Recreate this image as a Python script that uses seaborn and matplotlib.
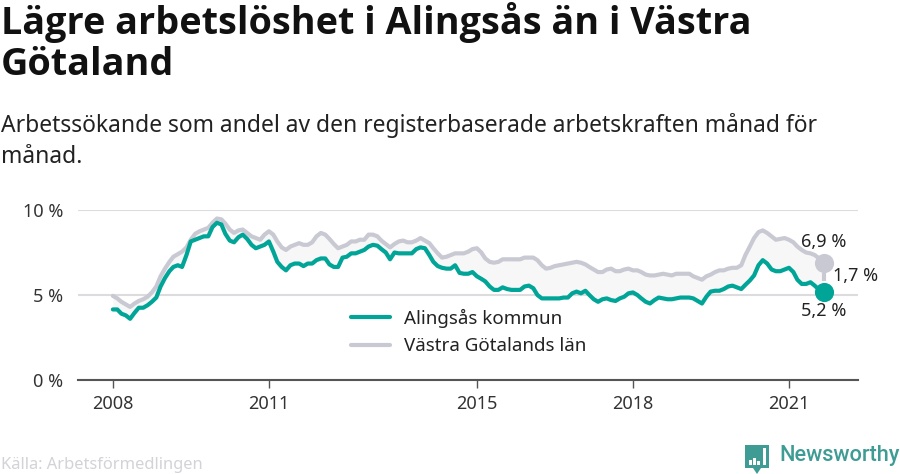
import pandas as pd
import matplotlib
matplotlib.use("Agg")
import matplotlib.pyplot as plt
import matplotlib.patches as mpatches
import seaborn as sns

# ------------------------------
# DATA (monthly, percent)
# ------------------------------
alingsas = [
    4.15, 4.15, 3.9, 3.8, 3.6, 3.95, 4.25, 4.25, 4.4, 4.6, 4.85, 5.5,
    6.0, 6.4, 6.65, 6.75, 6.65, 7.35, 8.15, 8.25, 8.35, 8.45, 8.45, 9.0,
    9.25, 9.15, 8.6, 8.2, 8.1, 8.4, 8.55, 8.3, 7.95, 7.75, 7.85, 7.95,
    8.15, 7.55, 6.95, 6.65, 6.45, 6.75, 6.85, 6.85, 6.7, 6.85, 6.85, 7.05,
    7.15, 7.15, 6.8, 6.65, 6.65, 7.2, 7.25, 7.45, 7.45, 7.55, 7.65, 7.85,
    7.95, 7.9, 7.7, 7.5, 7.1, 7.5, 7.45, 7.45, 7.45, 7.45, 7.7, 7.8,
    7.75, 7.35, 6.95, 6.7, 6.6, 6.55, 6.55, 6.75, 6.3, 6.25, 6.25, 6.35,
    6.1, 5.95, 5.8, 5.5, 5.3, 5.3, 5.45, 5.35, 5.3, 5.3, 5.3, 5.5,
    5.55, 5.4, 5.0, 4.8, 4.8, 4.8, 4.8, 4.8, 4.85, 4.85, 5.1, 5.2,
    5.1, 5.25, 5.0, 4.75, 4.6, 4.75, 4.8, 4.7, 4.65, 4.8, 4.9, 5.1,
    5.15, 5.0, 4.8, 4.6, 4.5, 4.7, 4.85, 4.8, 4.75, 4.75, 4.8, 4.85,
    4.85, 4.85, 4.8, 4.65, 4.5, 4.9, 5.2, 5.25, 5.25, 5.35, 5.5, 5.55,
    5.45, 5.35, 5.6, 5.85, 6.15, 6.75, 7.05, 6.85, 6.5, 6.4, 6.4, 6.5,
    6.6, 6.35, 5.9, 5.65, 5.65, 5.75, 5.55, 5.3, 5.2,
]
vastra_gotaland = [
    4.95, 4.8, 4.6, 4.45, 4.3, 4.5, 4.65, 4.75, 4.9, 5.15, 5.5, 6.1,
    6.55, 6.95, 7.25, 7.4, 7.55, 7.8, 8.25, 8.6, 8.75, 8.85, 8.95, 9.25,
    9.5, 9.45, 9.2, 8.85, 8.65, 8.8, 8.85, 8.65, 8.45, 8.35, 8.25, 8.55,
    8.75, 8.55, 8.15, 7.8, 7.65, 7.85, 7.95, 8.05, 7.95, 7.95, 8.1, 8.45,
    8.65, 8.55, 8.3, 8.0, 7.75, 7.85, 7.95, 8.15, 8.15, 8.25, 8.25, 8.55,
    8.55, 8.45, 8.2, 8.0, 7.8, 8.0, 8.15, 8.2, 8.1, 8.1, 8.2, 8.35,
    8.2, 8.05, 7.75, 7.45, 7.2, 7.25, 7.35, 7.45, 7.45, 7.45, 7.55, 7.7,
    7.75, 7.5, 7.15, 6.95, 6.9, 6.95, 7.1, 7.1, 7.1, 7.1, 7.1, 7.2,
    7.2, 7.2, 7.05, 6.75, 6.55, 6.6, 6.7, 6.75, 6.8, 6.85, 6.9, 6.95,
    6.9, 6.8, 6.65, 6.5, 6.35, 6.35, 6.5, 6.55, 6.4, 6.4, 6.5, 6.55,
    6.45, 6.45, 6.35, 6.2, 6.15, 6.15, 6.2, 6.25, 6.2, 6.15, 6.25, 6.25,
    6.25, 6.25, 6.1, 6.0, 5.9, 6.1, 6.2, 6.35, 6.45, 6.45, 6.55, 6.6,
    6.6, 6.75, 7.35, 7.85, 8.35, 8.7, 8.8, 8.65, 8.45, 8.25, 8.3, 8.35,
    8.25, 8.1, 7.85, 7.65, 7.5, 7.45, 7.35, 7.15, 6.9,
]
year_ticks = [2008, 2011, 2015, 2018, 2021]
y_ticks = [0, 5, 10]
y_labels = ["0 %", "5 %", "10 %"]

GREEN = "#00a597"
GREY = "#c9c9d3"
W, H = 900, 474

months = pd.date_range("2008-01-01", periods=len(alingsas), freq="MS")
df = pd.DataFrame({
    "month": months,
    "Alingsås kommun": alingsas,
    "Västra Götalands län": vastra_gotaland,
})
long_df = df.melt("month", var_name="region", value_name="share")

# ------------------------------
# PLOT
# ------------------------------
sns.set_theme(style="white")
plt.rcParams["font.family"] = ["Noto Sans", "DejaVu Sans"]

fig = plt.figure(figsize=(W / 100, H / 100), dpi=100)
ax = fig.add_axes([78 / W, 1 - 380 / H, 780 / W, 170 / H])

ax.fill_between(df["month"], df["Alingsås kommun"], df["Västra Götalands län"],
                color="#f7f7f8", lw=0, zorder=1)
sns.lineplot(data=long_df, x="month", y="share", hue="region",
             hue_order=["Västra Götalands län", "Alingsås kommun"],
             palette={"Alingsås kommun": GREEN, "Västra Götalands län": GREY},
             lw=3, ax=ax, zorder=3, legend=False)

# end markers and the gap between them
last = df.iloc[-1]
ax.plot([last["month"]] * 2, [last["Alingsås kommun"] + 0.6, last["Västra Götalands län"] - 0.6],
        color=GREY, lw=3, zorder=2, solid_capstyle="butt")
ax.scatter(last["month"], last["Västra Götalands län"], s=190, color=GREY, lw=0, zorder=4)
ax.scatter(last["month"], last["Alingsås kommun"], s=190, color=GREEN, lw=0, zorder=5)

ax.set_xlim(pd.Timestamp("2007-05-01"), pd.Timestamp("2022-05-01"))
ax.set_ylim(0, 10)
ax.set_xticks([pd.Timestamp(f"{y}-01-01") for y in year_ticks])
ax.set_xticklabels(year_ticks)
ax.set_yticks(y_ticks)
ax.set_yticklabels(y_labels)
ax.set_xlabel("")
ax.set_ylabel("")
ax.grid(axis="y", color="#dcdcdf", lw=1.5, zorder=0)
ax.set_axisbelow(True)
ax.patch.set_alpha(0)
for side in ["top", "right", "left"]:
    ax.spines[side].set_visible(False)
ax.spines["bottom"].set_color("#555555")
ax.spines["bottom"].set_linewidth(1.5)
ax.tick_params(axis="x", length=6, width=1, color="#555555", labelsize=13,
               labelcolor="#333333", pad=5, bottom=True)
ax.tick_params(axis="y", length=0, labelsize=13, labelcolor="#333333", pad=10.5)

# end labels
ax.text(last["month"], 8.12, "6,9 %", fontsize=13, color="#222222", ha="center", va="center")
ax.text(last["month"], 4.05, "5,2 %", fontsize=13, color="#222222", ha="center", va="center")
fig.text(833 / W, 1 - 276 / H, "1,7 %", fontsize=13, color="#222222", ha="left", va="center")

# legend
handles = [plt.Line2D([], [], color=GREEN, lw=3), plt.Line2D([], [], color=GREY, lw=3)]
fig.legend(handles, ["Alingsås kommun", "Västra Götalands län"], frameon=False,
           loc="upper left", bbox_to_anchor=(336 / W, 1 - 293.5 / H), fontsize=13.5,
           handlelength=2.1, handletextpad=0.7, labelspacing=0.52,
           labelcolor="#222222", borderpad=0.3)

# titles
fig.text(1 / W, 1 - 43 / H, "Lägre arbetslöshet i Alingsås än i Västra\nGötaland",
         fontsize=27.2, fontweight="bold", family=["Open Sans", "DejaVu Sans"],
         color="#111111", va="center", ha="left", linespacing=1.12)
fig.text(1 / W, 1 - 141 / H,
         "Arbetssökande som andel av den registerbaserade arbetskraften månad för\nmånad.",
         fontsize=16.45, color="#222222", va="center", ha="left", linespacing=1.42)

# footer
fig.text(1 / W, 1 - 465 / H, "Källa: Arbetsförmedlingen", fontsize=11.85,
         color="#d2d2d8", va="center", ha="left")
fig.text(779 / W, 1 - 456 / H, "Newsworthy", fontsize=15.7, fontweight="medium",
         family=["Roboto", "DejaVu Sans"], color="#3f9c95", va="center", ha="left")

# logo
fig_tr = fig.transFigure
def px(x, y):
    return (x / W, 1 - y / H)

fig.add_artist(mpatches.Polygon(
    [px(745, 445), px(769, 445), px(769, 468), px(761, 468), px(757, 474), px(753, 468), px(745, 468)],
    closed=True, color="#3f9c95", lw=0, transform=fig_tr))
for x0, top in [(749, 460), (753, 458), (757, 461), (763, 448)]:
    fig.add_artist(mpatches.Rectangle(px(x0, 465), 2.5 / W, (465 - top) / H,
                                      color="white", lw=0, transform=fig_tr))

fig.savefig("out.png", dpi=100)
